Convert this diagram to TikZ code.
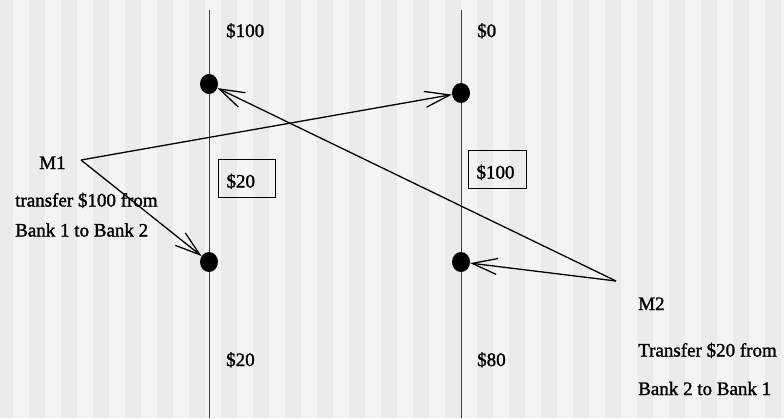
\documentclass[tikz,border=0pt]{standalone}
\usepackage{fontspec}
\setmainfont{Liberation Serif}[FakeBold=1.4]
\usetikzlibrary{arrows.meta,shapes.geometric}
\definecolor{stripedark}{HTML}{EBEBEB}
\definecolor{stripelight}{HTML}{F4F4F4}
\begin{document}
\begin{tikzpicture}[x=1pt,y=-1pt,
  lbl/.style={anchor=base west, inner sep=0pt, font=\fontsize{19}{22}\selectfont},
  evdot/.style={ellipse, fill=black, minimum width=18pt, minimum height=20pt, inner sep=0pt},
  msg/.style={line width=1.3pt, -{Straight Barb[length=25pt,width=16pt]}},
  timeline/.style={line width=1pt, draw=black!75},
  valbox/.style={draw, line width=1pt, anchor=north west, minimum height=38pt,
    inner xsep=8pt, inner ysep=0pt, text height=18pt, text depth=0pt,
    align=left, font=\fontsize{19}{22}\selectfont}]
\useasboundingbox (0,0) rectangle (784,418);
\begin{scope}
\clip (0,0) rectangle (784,418);
\fill[stripelight] (0,0) rectangle (784,418);
\foreach \i in {0,...,24} {
  \fill[stripedark] (\i*32-3,0) rectangle (\i*32+13,418);
}
\end{scope}
% time lines
\coordinate (b1top) at (209,10);
\coordinate (b1bot) at (209,418);
\coordinate (b2top) at (461,10);
\coordinate (b2bot) at (461,418);
\draw[timeline] (b1top) -- (b1bot);
\draw[timeline] (b2top) -- (b2bot);
% events
\node[evdot] (d1a) at (209,84) {};
\node[evdot] (d2a) at (461,93) {};
\node[evdot] (d1b) at (209,262) {};
\node[evdot] (d2b) at (461,262) {};
% message sources
\coordinate (m1) at (81,160);
\coordinate (m2) at (616,281);
\draw[msg] (m1) -- (d2a);
\draw[msg] (m1) -- (d1b);
\draw[msg] (m2) -- (d1a);
\draw[msg] (m2) -- (d2b);
% labels
\node[lbl] (v1) at (226,37) {\$100};
\node[lbl] (v2) at (477,37) {\$0};
\node[lbl] (v3) at (226,366) {\$20};
\node[lbl] (v4) at (477,366) {\$80};
\node[lbl] (m1lbl) at (39,169) {M1};
\node[lbl] (m1t1) at (15,206.5) {transfer \$100 from};
\node[lbl] (m1t2) at (15,236.5) {Bank 1 to Bank 2};
\node[lbl] (m2lbl) at (638,310) {M2};
\node[lbl] (m2t1) at (638,356.5) {Transfer \$20 from};
\node[lbl] (m2t2) at (638,395) {Bank 2 to Bank 1};
% boxes
\node[valbox, text width=41pt] (box1) at (218,159) {\$20};
\node[valbox, text width=42pt] (box2) at (468,150) {\$100};
\end{tikzpicture}
\end{document}
